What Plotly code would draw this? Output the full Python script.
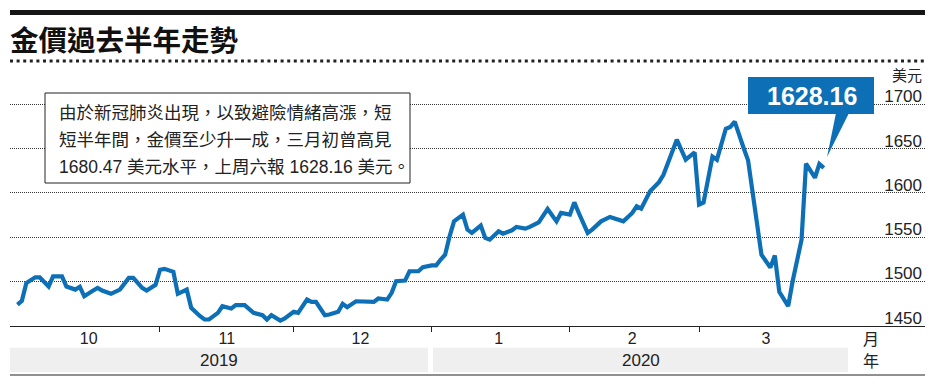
import plotly.graph_objects as go
import pandas as pd

W, H = 934, 386


def px(x):
    return x / W


def py(y):
    return 1 - y / H


# ---------------- data ----------------
dates = [
    "2019-09-30", "2019-10-01", "2019-10-02", "2019-10-04", "2019-10-05", "2019-10-07", "2019-10-08",
    "2019-10-10", "2019-10-11", "2019-10-13", "2019-10-14", "2019-10-15", "2019-10-17", "2019-10-18",
    "2019-10-19", "2019-10-21", "2019-10-23", "2019-10-25", "2019-10-26", "2019-10-28", "2019-10-29",
    "2019-10-31",
    "2019-11-01", "2019-11-02", "2019-11-04", "2019-11-05", "2019-11-07", "2019-11-08", "2019-11-10",
    "2019-11-11", "2019-11-12", "2019-11-14", "2019-11-15", "2019-11-17", "2019-11-18", "2019-11-20",
    "2019-11-22", "2019-11-24", "2019-11-25", "2019-11-26", "2019-11-28", "2019-11-29",
    "2019-12-01", "2019-12-02", "2019-12-04", "2019-12-05", "2019-12-06", "2019-12-08", "2019-12-09",
    "2019-12-11", "2019-12-12", "2019-12-13", "2019-12-15", "2019-12-17", "2019-12-19", "2019-12-20",
    "2019-12-22", "2019-12-23", "2019-12-24", "2019-12-26", "2019-12-27", "2019-12-29", "2019-12-30",
    "2020-01-01", "2020-01-02", "2020-01-03", "2020-01-04", "2020-01-05", "2020-01-06", "2020-01-08",
    "2020-01-09", "2020-01-10", "2020-01-12", "2020-01-13", "2020-01-14", "2020-01-16", "2020-01-17",
    "2020-01-19", "2020-01-20", "2020-01-22", "2020-01-23", "2020-01-25", "2020-01-27", "2020-01-29",
    "2020-01-30",
    "2020-02-01", "2020-02-02", "2020-02-03", "2020-02-05", "2020-02-06", "2020-02-08", "2020-02-10",
    "2020-02-12", "2020-02-13", "2020-02-15", "2020-02-16", "2020-02-17", "2020-02-19", "2020-02-21",
    "2020-02-22", "2020-02-25", "2020-02-27", "2020-02-29",
    "2020-03-01", "2020-03-02", "2020-03-04", "2020-03-05", "2020-03-07", "2020-03-08", "2020-03-09",
    "2020-03-11", "2020-03-12", "2020-03-15", "2020-03-17", "2020-03-18", "2020-03-19", "2020-03-21",
    "2020-03-22", "2020-03-24", "2020-03-25", "2020-03-27", "2020-03-28", "2020-03-29",
]
prices = [
    1473.7, 1478.0, 1498.0, 1504.5, 1504.5, 1494.0, 1505.6,
    1505.6, 1494.0, 1490.6, 1493.7, 1483.0, 1489.5, 1492.5,
    1489.5, 1485.8, 1490.6, 1503.8, 1503.8, 1492.5, 1489.5,
    1496.0,
    1513.0, 1514.0, 1510.6, 1485.8, 1490.6, 1470.0, 1460.5,
    1456.8, 1456.8, 1464.3, 1471.8, 1469.2, 1473.0, 1473.0,
    1464.3, 1461.6, 1456.8, 1461.6, 1455.6, 1457.9,
    1465.5, 1464.3, 1479.3, 1476.7, 1476.7, 1461.6, 1462.4,
    1465.5, 1474.5, 1470.7, 1477.4, 1477.4, 1476.7, 1480.5,
    1479.3, 1486.9, 1500.0, 1500.8, 1511.3, 1511.3, 1515.8,
    1518.0, 1518.0, 1524.5, 1530.0, 1550.8, 1567.7, 1575.3,
    1558.4, 1554.6, 1562.9, 1549.0, 1547.0, 1556.4, 1553.8,
    1557.6, 1561.4, 1559.5, 1561.4, 1566.6, 1581.7, 1567.7,
    1577.2,
    1575.3, 1589.2, 1577.2, 1554.6, 1558.4, 1567.7, 1572.7,
    1569.6, 1567.7, 1577.2, 1584.7, 1582.1, 1601.6, 1612.0,
    1620.4, 1660.0, 1637.4, 1645.6,
    1586.6, 1589.0, 1641.0, 1637.4, 1672.4, 1674.3, 1680.47,
    1650.6, 1636.6, 1530.0, 1515.5, 1529.0, 1488.0, 1472.0,
    1500.0, 1547.0, 1633.0, 1617.0, 1632.5, 1628.16,
]

month_label_dates = ["2019-10-16", "2019-11-16", "2019-12-16", "2020-01-16", "2020-02-15", "2020-03-16"]
month_labels = ["10", "11", "12", "1", "2", "3"]
month_bounds = ["2019-11-01", "2019-12-01", "2020-01-01", "2020-02-01", "2020-03-01"]
y_ticks = [1450, 1500, 1550, 1600, 1650, 1700]
year_labels = ["2019", "2020"]
year_spans = [("2019-09-28 08:00", "2019-12-31 04:00"), ("2020-01-01 07:00", "2020-04-03 10:00")]
x_range = ["2019-09-28 08:00", "2020-04-20 17:00"]
y_range = [1450, 1725]

title_text = "金價過去半年走勢"
note_lines = [
    "由於新冠肺炎出現，以致避險情緒高漲，短",
    "短半年間，金價至少升一成，三月初曾高見",
    "1680.47 美元水平，上周六報 1628.16 美元。",
]
callout_text = "1628.16"
unit_text = "美元"

BLUE = "#0d70b6"
INK = "#222222"
NUM_FONT = "Liberation Sans, Arial, Noto Sans CJK TC, sans-serif"
CJK_FONT = "Liberation Sans, Noto Sans CJK TC, sans-serif"

fig = go.Figure()
fig.add_trace(go.Scatter(
    x=dates, y=prices, mode="lines",
    line=dict(color=BLUE, width=4.2),
    hoverinfo="skip", showlegend=False,
))

shapes = []
# top black bar
shapes.append(dict(type="rect", xref="paper", yref="paper",
                   x0=px(10), x1=px(925), y0=py(15), y1=py(10),
                   fillcolor="#161616", line=dict(width=0)))
# dotted rule below title
shapes.append(dict(type="line", xref="paper", yref="paper",
                   x0=px(10), x1=px(925), y0=py(61), y1=py(61),
                   line=dict(color="#222", width=3, dash="3px,3.6px")))
# note box
shapes.append(dict(type="rect", xref="paper", yref="paper", layer="above",
                   x0=px(45), x1=px(410), y0=py(183), y1=py(93),
                   fillcolor="white", line=dict(color="#222", width=1)))
# year bands
for (a, b) in year_spans:
    shapes.append(dict(type="rect", xref="x", yref="paper", layer="below",
                       x0=a, x1=b, y0=py(372), y1=py(347.7),
                       fillcolor="#efefef", line=dict(width=0)))
# bottom rule
shapes.append(dict(type="line", xref="paper", yref="paper",
                   x0=px(10), x1=px(925), y0=py(375), y1=py(375),
                   line=dict(color="#222", width=1)))
# callout box + tail
shapes.append(dict(type="rect", xref="paper", yref="paper", layer="above",
                   x0=px(748), x1=px(874), y0=py(114), y1=py(77),
                   fillcolor=BLUE, line=dict(width=0)))
shapes.append(dict(type="path", xref="paper", yref="paper", layer="above",
                   path=f"M {px(836)} {py(113)} L {px(849)} {py(113)} L {px(827)} {py(157)} Z",
                   fillcolor=BLUE, line=dict(width=0)))

annotations = []
annotations.append(dict(text=f"<b>{title_text}</b>", xref="paper", yref="paper",
                        x=px(8), y=py(38), xanchor="left", yanchor="middle", showarrow=False,
                        font=dict(family="Noto Sans CJK TC, sans-serif", size=28.5, color="#111")))
for i, line in enumerate(note_lines):
    annotations.append(dict(text=line, xref="paper", yref="paper",
                            x=px(57), y=py(113 + 27 * i), xanchor="left", yanchor="middle",
                            showarrow=False,
                            font=dict(family=CJK_FONT, size=17.5, color=INK)))
annotations.append(dict(text=f"<b>{callout_text}</b>", xref="paper", yref="paper",
                        x=px(812), y=py(95.5), xanchor="center", yanchor="middle", showarrow=False,
                        font=dict(family=NUM_FONT, size=25, color="white")))
annotations.append(dict(text=unit_text, xref="paper", yref="paper",
                        x=px(924), y=py(74), xanchor="right", yanchor="middle", showarrow=False,
                        font=dict(family="Noto Sans CJK TC, sans-serif", size=15, color=INK)))
for lbl, (a, b) in zip(year_labels, year_spans):
    mid = pd.Timestamp(a) + (pd.Timestamp(b) - pd.Timestamp(a)) / 2
    annotations.append(dict(text=lbl, xref="x", yref="paper",
                            x=mid.strftime("%Y-%m-%d %H:%M:%S"), y=py(360),
                            xanchor="center", yanchor="middle", showarrow=False,
                            font=dict(family=NUM_FONT, size=17, color=INK)))
annotations.append(dict(text="月", xref="paper", yref="paper", x=px(871), y=py(338),
                        xanchor="center", yanchor="middle", showarrow=False,
                        font=dict(family="Noto Sans CJK TC, sans-serif", size=16, color=INK)))
annotations.append(dict(text="年", xref="paper", yref="paper", x=px(871), y=py(360),
                        xanchor="center", yanchor="middle", showarrow=False,
                        font=dict(family="Noto Sans CJK TC, sans-serif", size=16, color=INK)))

# y domain from pixel positions (1450 at 325.5px, 1700 at 104.3px)
ppu = (325.5 - 104.3) / 250.0
y_top_px = 325.5 - (y_range[1] - y_range[0]) * ppu

fig.update_layout(
    width=W, height=H, autosize=False,
    margin=dict(l=0, r=0, t=0, b=0, autoexpand=False),
    paper_bgcolor="white", plot_bgcolor="rgba(0,0,0,0)",
    showlegend=False,
    shapes=shapes,
    annotations=annotations,
    xaxis=dict(
        type="date", range=x_range, domain=[px(10), px(925)], automargin=False,
        tickmode="array", tickvals=month_label_dates, ticktext=month_labels,
        ticks="", showgrid=False, zeroline=False,
        showline=True, linecolor="#222", linewidth=1,
        tickfont=dict(family=NUM_FONT, size=16, color=INK),
        ticklabelstandoff=-2,
        minor=dict(tickmode="array", tickvals=month_bounds, ticks="outside",
                   ticklen=5, tickwidth=1, tickcolor="#222", showgrid=False),
        fixedrange=True,
    ),
    yaxis=dict(
        range=y_range, domain=[py(325.5), py(y_top_px)], automargin=False,
        side="right", tickmode="array", tickvals=y_ticks,
        ticks="", ticklabelposition="inside top", ticklabeloverflow="allow",
        ticklabelshift=4,
        showgrid=True, gridcolor="#333", gridwidth=1, griddash="1px,1px",
        zeroline=False, showline=False,
        tickfont=dict(family=NUM_FONT, size=17, color=INK),
        fixedrange=True,
    ),
)

fig.write_html("out.html", config={"displayModeBar": False, "staticPlot": True},
               post_script="document.body.style.margin='0';document.body.style.overflow='hidden';")
